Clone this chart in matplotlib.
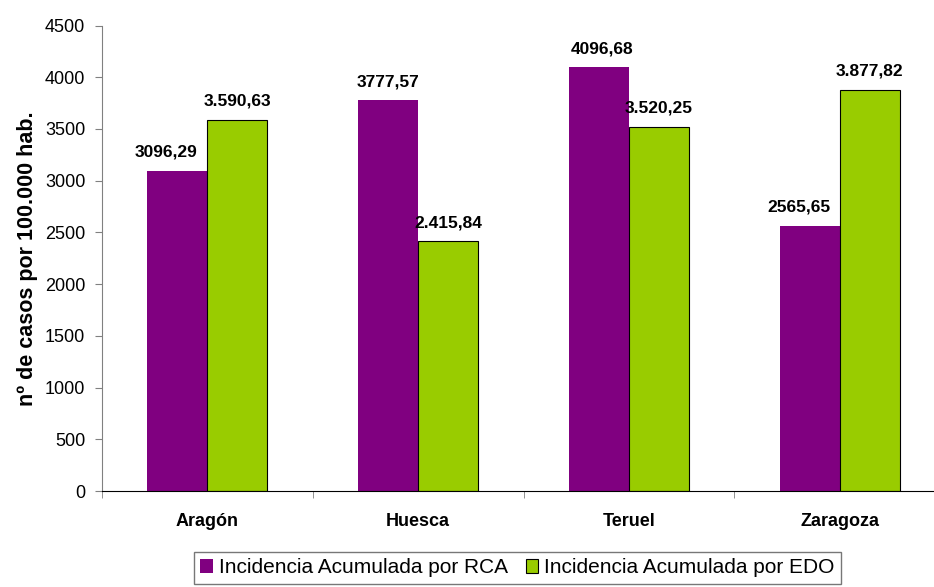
import matplotlib.pyplot as plt
import numpy as np

plt.rcParams['font.family'] = ['Liberation Sans', 'DejaVu Sans']

categorias = ['Aragón', 'Huesca', 'Teruel', 'Zaragoza']
rca = [3096.29, 3777.57, 4096.68, 2565.65]
edo = [3590.63, 2415.84, 3520.25, 3877.82]
rca_labels = ['3096,29', '3777,57', '4096,68', '2565,65']
edo_labels = ['3.590,63', '2.415,84', '3.520,25', '3.877,82']
# horizontal nudge of the RCA labels (points), as in the original
rca_shift = [-8, 0, 2, -8]

fig = plt.figure(figsize=(9.34, 5.87), dpi=100)
ax = fig.add_axes([0.1092, 0.1635, 0.9026, 0.793])

x = np.arange(len(categorias))
w = 0.285
b1 = ax.bar(x - w / 2, rca, w, color='#800080', label='Incidencia Acumulada por RCA')
b2 = ax.bar(x + w / 2, edo, w, color='#99CC00', edgecolor='black', linewidth=0.8,
            label='Incidencia Acumulada por EDO')

for rect, lab, dx in zip(b1, rca_labels, rca_shift):
    ax.annotate(lab, (rect.get_x() + rect.get_width() / 2, rect.get_height()),
                xytext=(dx, 8), textcoords='offset points',
                ha='center', va='bottom', fontsize=12.5, fontweight='bold')
for rect, lab in zip(b2, edo_labels):
    ax.annotate(lab, (rect.get_x() + rect.get_width() / 2, rect.get_height()),
                xytext=(0, 8), textcoords='offset points',
                ha='center', va='bottom', fontsize=12.5, fontweight='bold')

ax.set_xlim(-0.5, 3.5)
ax.set_ylim(0, 4500)
ax.set_yticks(range(0, 4501, 500))
ax.set_xticks(x)
ax.set_xticklabels(categorias, fontweight='bold', fontsize=13)
ax.tick_params(axis='x', length=0, pad=16)
ax.tick_params(axis='y', labelsize=13, length=5, pad=7, direction='out', color='#808080')
ax.set_xticks(np.arange(-0.5, 4, 1), minor=True)
ax.tick_params(axis='x', which='minor', length=5, direction='out', color='#808080')
ax.set_ylabel('nº de casos por 100.000 hab.', fontweight='bold', fontsize=15.5, labelpad=5)

for s in ['top', 'right']:
    ax.spines[s].set_visible(False)
ax.spines['left'].set_color('#808080')

leg = fig.legend(loc='lower center', bbox_to_anchor=(0.554, -0.012), ncol=2, frameon=True,
                 fancybox=False, edgecolor='#555555', fontsize=15, handlelength=0.6,
                 handleheight=0.6, handletextpad=0.3, columnspacing=0.85,
                 borderpad=0.3)
leg.get_frame().set_linewidth(1.0)

fig.savefig('out.png', dpi=100)
